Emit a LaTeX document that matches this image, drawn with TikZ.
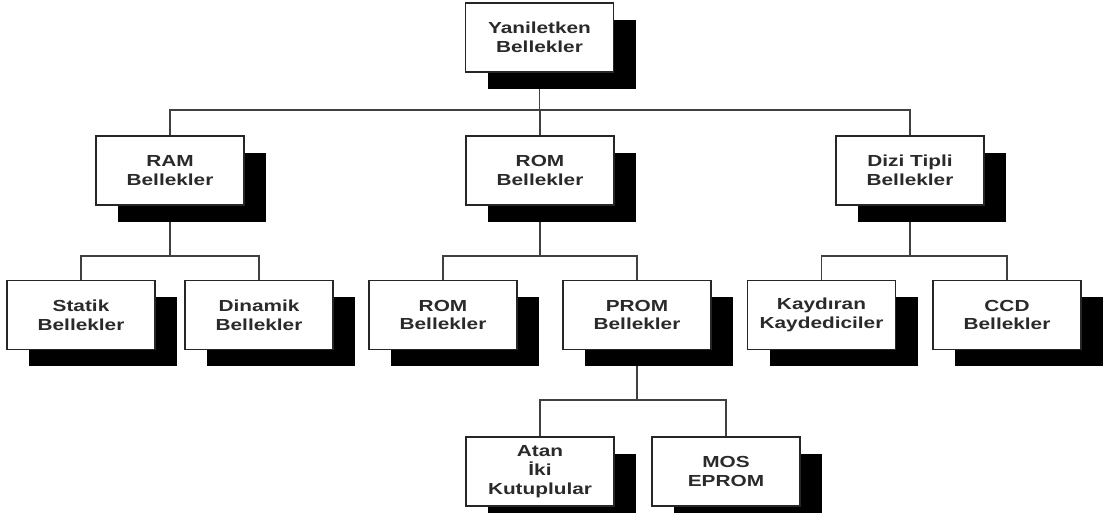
\documentclass[tikz,border=0pt]{standalone}
\usepackage{fontspec}
\setmainfont{Liberation Sans}[FakeStretch=1.3]
\usetikzlibrary{shadows,backgrounds}
\definecolor{inkgray}{HTML}{2A2A2A}
\tikzset{
  membox/.style={draw=black!85, line width=0.7pt, fill=white,
    minimum width=74pt, minimum height=34.5pt, inner sep=0pt,
    align=center, text=inkgray,
    font=\bfseries\fontsize{8}{9.4}\selectfont,
    general shadow={fill=black, shadow xshift=11pt, shadow yshift=-8.5pt}},
  link/.style={draw=black!75, line width=0.8pt}
}
\begin{document}
\begin{tikzpicture}[x=0.5pt,y=-0.5pt]
\clip (0,0) rectangle (1105,513);
\useasboundingbox (0,0) rectangle (1105,513);

% bus levels
\coordinate (b0) at (0,110);
\coordinate (b1) at (0,256);
\coordinate (b2) at (0,400);

% memory hierarchy
\node[membox] (top) at (539.5,37.5) {Yaniletken\\Bellekler};
\node[membox] (ram) at (170,170.5) {RAM\\Bellekler};
\node[membox] (rom) at (540,170.5) {ROM\\Bellekler};
\node[membox] (dizi) at (910,170.5) {Dizi Tipli\\Bellekler};
\node[membox] (statik) at (81,315) {Statik\\Bellekler};
\node[membox] (dinamik) at (259,315) {Dinamik\\Bellekler};
\node[membox] (romb) at (443,315) {ROM\\Bellekler};
\node[membox] (prom) at (637,315) {PROM\\Bellekler};
\node[membox] (kay) at (821.5,315) {Kaydıran\\Kaydediciler};
\node[membox] (ccd) at (1007,315) {CCD\\Bellekler};
\node[membox] (atan) at (540,471.5) {Atan\\İki\\Kutuplular};
\node[membox] (mos) at (726,471.5) {MOS\\EPROM};

\begin{scope}[on background layer]
  \fill[white] (0,0) rectangle (1105,513);
  \draw[link] (top.south) -- (top.south |- b0);
  \draw[link] (ram.north) |- (dizi.north |- b0) -- (dizi.north);
  \draw[link] (rom.north) -- (rom.north |- b0);

  \draw[link] (ram.south) -- (ram.south |- b1);
  \draw[link] (statik.north) |- (dinamik.north |- b1) -- (dinamik.north);

  \draw[link] (rom.south) -- (rom.south |- b1);
  \draw[link] (romb.north) |- (prom.north |- b1) -- (prom.north);

  \draw[link] (dizi.south) -- (dizi.south |- b1);
  \draw[link] (kay.north) |- (ccd.north |- b1) -- (ccd.north);

  \draw[link] (prom.south) -- (prom.south |- b2);
  \draw[link] (atan.north) |- (mos.north |- b2) -- (mos.north);
\end{scope}
\end{tikzpicture}
\end{document}
